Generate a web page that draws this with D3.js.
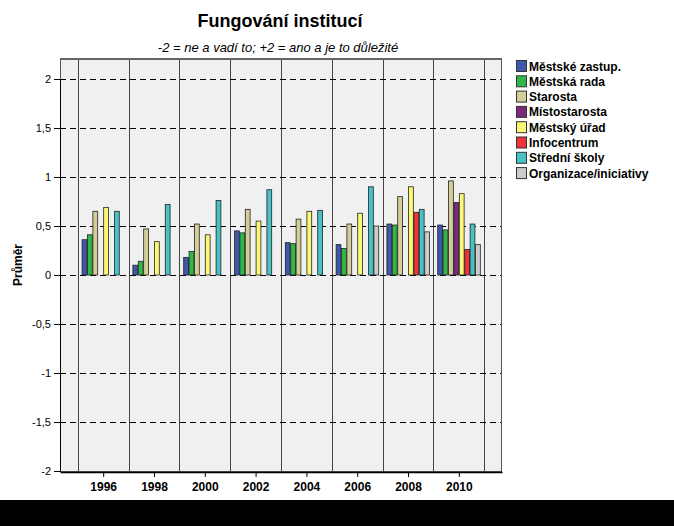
<!DOCTYPE html>
<html><head><meta charset="utf-8">
<script src="https://cdn.jsdelivr.net/npm/d3@7"></script>
<style>body{margin:0;background:#fff}svg{display:block}text{font-family:Arial,"Liberation Sans",sans-serif}</style>
</head><body>
<svg id="c" width="674" height="526"></svg>
<script>
const years = [1996, 1998, 2000, 2002, 2004, 2006, 2008, 2010];
const series = ["Městské zastup.", "Městská rada", "Starosta", "Místostarosta", "Městský úřad", "Infocentrum", "Střední školy", "Organizace/iniciativy"];
const colors = ["#3E58AC", "#2EB848", "#D3CE97", "#7C287D", "#FBF873", "#EF3338", "#48C2C5", "#CCCCCC"];
// values per series, aligned with years (null = no bar)
const zastup  = [0.36, 0.10, 0.18, 0.45, 0.33, 0.31, 0.52, 0.51];
const rada    = [0.41, 0.14, 0.24, 0.43, 0.32, 0.27, 0.51, 0.46];
const starosta= [0.65, 0.47, 0.52, 0.67, 0.57, 0.52, 0.80, 0.96];
const mistost = [null, null, null, null, null, null, null, 0.74];
const urad    = [0.69, 0.34, 0.41, 0.55, 0.65, 0.63, 0.90, 0.83];
const infoc   = [null, null, null, null, null, null, 0.64, 0.26];
const skoly   = [0.65, 0.72, 0.76, 0.87, 0.66, 0.90, 0.67, 0.52];
const organiz = [null, null, null, null, null, 0.50, 0.44, 0.31];
const values = [zastup, rada, starosta, mistost, urad, infoc, skoly, organiz];
const yTicks = [-2, -1.5, -1, -0.5, 0, 0.5, 1, 1.5, 2];

const svg = d3.select("#c");
const L = 60, R = 502, T = 58, B = 472;
const x = d3.scaleLinear().domain([1994.3, 2011.7]).range([L, R]);
const y = d3.scaleLinear().domain([-2, 2]).range([471, 79]);
const bx = d3.scaleBand().domain(d3.range(series.length)).range([-21.6, 21.6]).paddingInner(0);

svg.append("rect").attr("x", 0).attr("y", 500).attr("width", 674).attr("height", 26).attr("fill", "#000");

// plot background
svg.append("rect").attr("x", L).attr("y", T).attr("width", R - L).attr("height", B - T).attr("fill", "#F0F0F0");

// separators at odd years
const seps = d3.range(1995, 2012, 2);
svg.selectAll(".sep").data(seps).join("line")
  .attr("x1", d => Math.round(x(d)) + 0.5).attr("x2", d => Math.round(x(d)) + 0.5)
  .attr("y1", T).attr("y2", B).attr("stroke", "#444").attr("stroke-width", 1);

// dashed gridlines
svg.selectAll(".grid").data(yTicks.filter(d => d > -2)).join("line")
  .attr("x1", L).attr("x2", R)
  .attr("y1", d => Math.round(y(d)) + 0.5).attr("y2", d => Math.round(y(d)) + 0.5)
  .attr("stroke", "#000").attr("stroke-dasharray", "6,4").attr("stroke-width", 1);

// bars
const bars = [];
values.forEach((arr, si) => arr.forEach((v, yi) => { if (v != null) bars.push({si, yi, v}); }));
svg.selectAll(".bar").data(bars).join("rect")
  .attr("x", d => x(years[d.yi]) + bx(d.si) + 0.5)
  .attr("width", bx.bandwidth() - 0.6)
  .attr("y", d => y(d.v))
  .attr("height", d => y(0) - y(d.v))
  .attr("fill", d => colors[d.si]).attr("stroke", "#222").attr("stroke-width", 0.8);

// frame
svg.append("rect").attr("x", L + 0.5).attr("y", T + 0.5).attr("width", R - L - 1).attr("height", B - T - 1)
  .attr("fill", "none").attr("stroke", "#555");
svg.append("line").attr("x1", L).attr("x2", R).attr("y1", T + 1).attr("y2", T + 1).attr("stroke", "#666").attr("stroke-width", 2);

// y axis
const ya = svg.append("g").attr("transform", `translate(${L},0)`)
  .call(d3.axisLeft(y).tickValues(yTicks).tickSize(6).tickFormat(d => String(d).replace(".", ",")));
ya.select(".domain").attr("stroke", "#000");
ya.selectAll("text").attr("font-size", 11).attr("fill", "#000").attr("font-family", "Arial");
ya.selectAll("line").attr("stroke", "#000");

// x axis
const xa = svg.append("g").attr("transform", `translate(0,${B})`)
  .call(d3.axisBottom(x).tickValues(years).tickSize(5).tickFormat(d3.format("d")).tickSizeOuter(0));
xa.select(".domain").attr("stroke", "#000").attr("stroke-width", 1.5);
xa.selectAll("line").attr("stroke", "#000");
xa.selectAll("text").attr("font-size", 12).attr("font-weight", "bold").attr("fill", "#000").attr("dy", "0.9em").attr("font-family", "Arial");

// titles
svg.append("text").attr("x", 280).attr("y", 27).attr("text-anchor", "middle")
  .attr("font-size", 18).attr("font-weight", "bold").text("Fungování institucí");
svg.append("text").attr("x", 278).attr("y", 52).attr("text-anchor", "middle")
  .attr("font-size", 13).attr("font-style", "italic").text("-2 = ne a vadí to; +2 = ano a je to důležité");
svg.append("text").attr("transform", "translate(22,265) rotate(-90)").attr("text-anchor", "middle")
  .attr("font-size", 12).attr("font-weight", "bold").text("Průměr");

// legend
const lg = svg.selectAll(".lg").data(series).join("g")
  .attr("transform", (d, i) => `translate(516,${60 + i * 15.3})`);
lg.append("rect").attr("x", 0.5).attr("y", 0.5).attr("width", 10).attr("height", 11)
  .attr("fill", (d, i) => colors[i]).attr("stroke", "#333");
lg.append("text").attr("x", 13).attr("y", 10.5).attr("font-size", 12).attr("font-weight", "bold").text(d => d);
</script>
</body></html>
